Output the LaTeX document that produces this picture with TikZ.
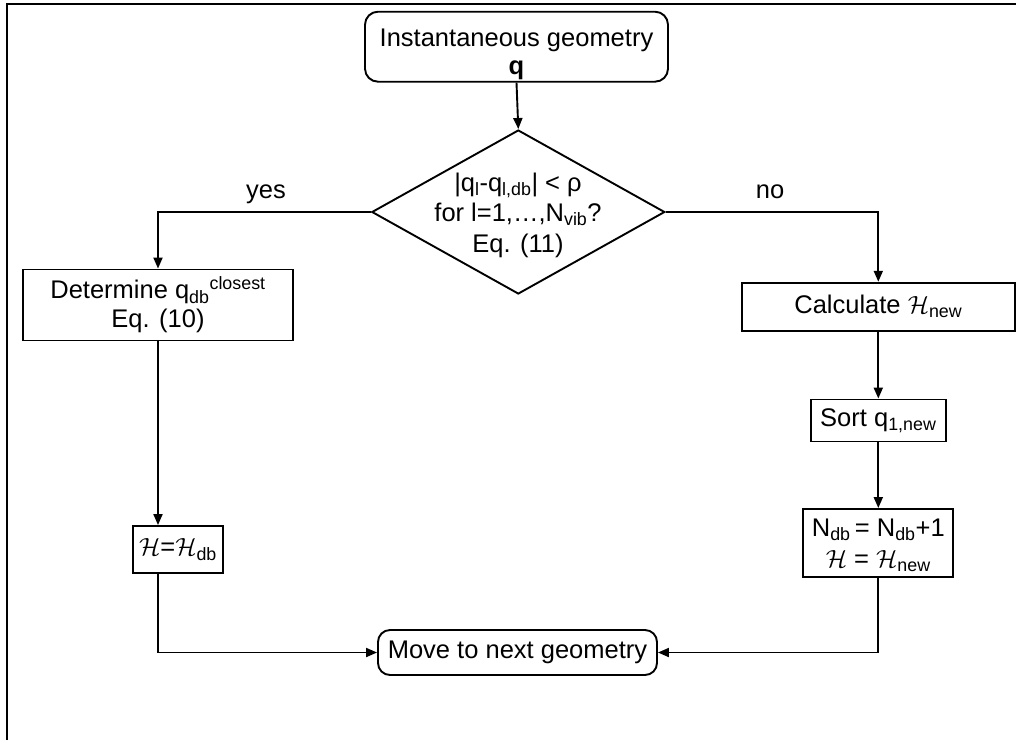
\documentclass[tikz,border=0pt]{standalone}
\usepackage{fontspec}
\setmainfont{Liberation Sans}
\usetikzlibrary{shapes.geometric,arrows.meta}
\newcommand{\calH}{\ensuremath{\mathcal{H}}}
\begin{document}
\begin{tikzpicture}[x=1pt,y=-1pt,
  every node/.style={font=\fontsize{25.5}{29}\selectfont},
  box/.style={draw,line width=1.9pt,align=center,inner sep=0pt},
  rbox/.style={box,rounded corners=13pt},
  arr/.style={line width=1.9pt,-{Triangle[length=11pt,width=9pt]}},
  frame/.style={line width=2.4pt}]
\useasboundingbox (0,0) rectangle (1016,740);
\draw[frame] (7,740) -- (7,4) -- (1016,4);

\node[rbox,minimum width=303pt,minimum height=70pt] (start) at (516.5,46.7) {};
\node[align=center,font=\fontsize{25.5}{28}\selectfont] (starttext) at (516.5,54) {Instantaneous geometry\\ \textbf{q}};
\node[draw,diamond,line width=1.9pt,minimum width=293pt,minimum height=164pt,inner sep=0pt] (dec) at (518.3,212) {};
\node[align=center,font=\fontsize{25.5}{30.5}\selectfont] (dectext) at (518,215) {|q\textsubscript{l}-q\textsubscript{l,db}| < ρ\\ for l=1,…,N\textsubscript{vib}?\\ Eq. (11)};
\node[box,minimum width=270pt,minimum height=71pt] (det) at (158,305) {Determine q\textsubscript{db}\textsuperscript{closest}\\ Eq. (10)};
\node[box,minimum width=90pt,minimum height=47pt] (hdb) at (178,549.5) {\calH=\calH\textsubscript{db}};
\node[box,minimum width=273pt,minimum height=48pt] (calc) at (878.3,306.7) {Calculate \calH\textsubscript{new}};
\node[box,minimum width=135pt,minimum height=42pt] (sort) at (878.3,420.5) {Sort q\textsubscript{1,new}};
\node[box,minimum width=150pt,minimum height=68pt] (ndb) at (878.3,543) {};
\node[align=center,font=\fontsize{25.5}{31.5}\selectfont] (ndbtext) at (878.3,545) {N\textsubscript{db}\,= N\textsubscript{db}+1\\ \calH{} = \calH\textsubscript{new}};
\node[rbox,rounded corners=12pt,minimum width=279pt,minimum height=45pt] (move) at (517.5,652.5) {Move to next geometry};

\node[anchor=base] (yes) at (266,198) {yes};
\node[anchor=base] (no) at (770,198) {no};

\draw[arr] (start.south) -- (dec.north);
\draw[arr] (dec.west) -| (det.north);
\draw[arr] (dec.east) -| (calc.north);
\draw[arr] (det.south) -- (det.south |- hdb.north);
\draw[arr] (det.south |- hdb.south) |- (move.west);
\draw[arr] (calc.south) -- (sort.north);
\draw[arr] (sort.south) -- (ndb.north);
\draw[arr] (ndb.south) |- (move.east);
\end{tikzpicture}
\end{document}
